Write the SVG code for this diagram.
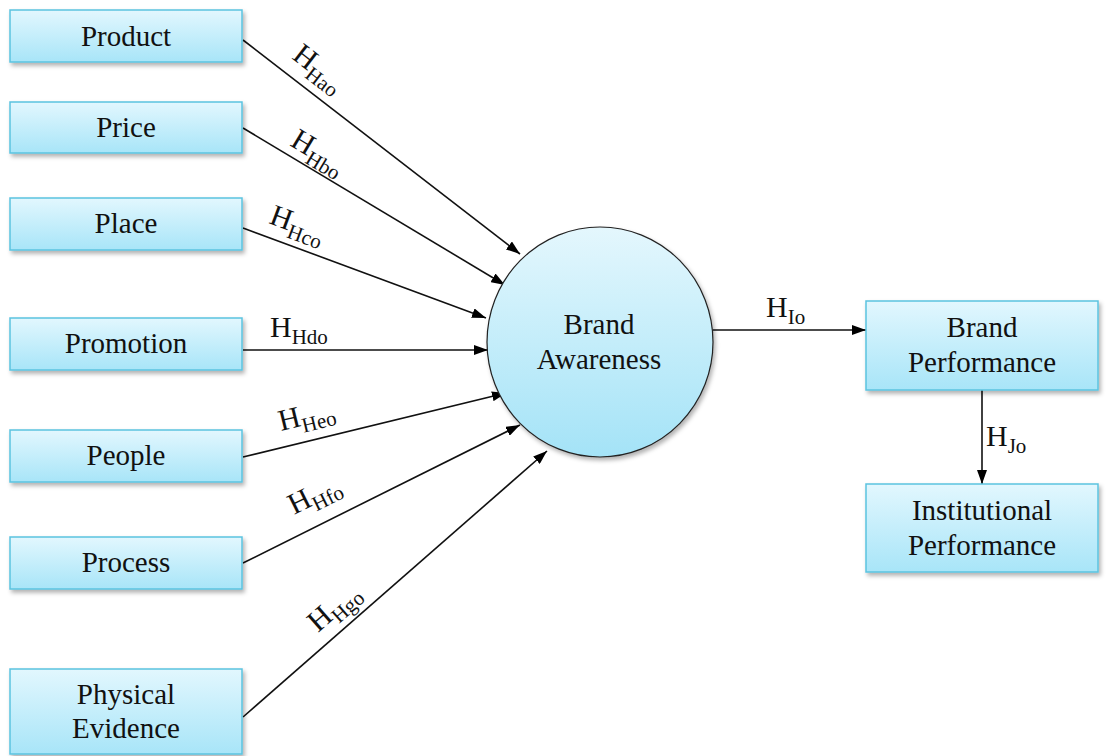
<svg xmlns="http://www.w3.org/2000/svg" width="1107" height="756" viewBox="0 0 1107 756">
  <defs>
    <linearGradient id="boxFill" x1="0" y1="0" x2="0" y2="1">
      <stop offset="0" stop-color="#e2f7fe"/>
      <stop offset="1" stop-color="#a8e5f8"/>
    </linearGradient>
    <linearGradient id="circleFill" x1="0" y1="0" x2="0" y2="1">
      <stop offset="0" stop-color="#e4f7fd"/>
      <stop offset="1" stop-color="#a4e3f7"/>
    </linearGradient>
    <filter id="shadow" x="-10%" y="-20%" width="125%" height="150%">
      <feDropShadow dx="2" dy="3" stdDeviation="2" flood-color="#000" flood-opacity="0.3"/>
    </filter>
    <marker id="arrow" viewBox="0 0 14 10" refX="14" refY="5" markerWidth="14" markerHeight="10" markerUnits="userSpaceOnUse" orient="auto">
      <path d="M0,0 L14,5 L0,10 Z" fill="#000"/>
    </marker>
  </defs>
  <style>
    .box { fill: url(#boxFill); stroke: #5bc3e0; stroke-width: 1.5; filter: url(#shadow); }
    .circle { fill: url(#circleFill); stroke: #222; stroke-width: 1.2; filter: url(#shadow); }
    text { font-family: 'Liberation Serif', 'DejaVu Serif', serif; fill: #111; }
    .label { font-size: 29px; text-anchor: middle; }
    .edge { stroke: #111; stroke-width: 1.6; fill: none; marker-end: url(#arrow); }
    .hyp { font-size: 30px; }
    .sub { font-size: 21px; }
  </style>
  <rect width="1107" height="756" fill="#fff"/>

  <!-- connectors -->
  <g id="connectors">
    <line class="edge" x1="243" y1="40" x2="520" y2="254"/>
    <line class="edge" x1="243" y1="128" x2="505" y2="285"/>
    <line class="edge" x1="243" y1="228" x2="486" y2="318"/>
    <line class="edge" x1="243" y1="350" x2="488" y2="350"/>
    <line class="edge" x1="243" y1="457" x2="506" y2="393"/>
    <line class="edge" x1="243" y1="563" x2="520" y2="425"/>
    <line class="edge" x1="243" y1="717" x2="547" y2="451"/>
    <line class="edge" x1="713" y1="330" x2="866" y2="330"/>
    <line class="edge" x1="982" y1="390" x2="982" y2="484"/>

    <text class="hyp" font-family="Liberation Serif" transform="translate(291,58) rotate(37.7)">H<tspan class="sub" dy="7">Hao</tspan></text>
    <text class="hyp" font-family="Liberation Serif" transform="translate(289,145) rotate(30.9)">H<tspan class="sub" dy="7">Hbo</tspan></text>
    <text class="hyp" font-family="Liberation Serif" transform="translate(268,223) rotate(20.4)">H<tspan class="sub" dy="7">Hco</tspan></text>
    <text class="hyp" font-family="Liberation Serif" x="270" y="337">H<tspan class="sub" dy="7">Hdo</tspan></text>
    <text class="hyp" font-family="Liberation Serif" transform="translate(281,431) rotate(-13.7)">H<tspan class="sub" dy="7">Heo</tspan></text>
    <text class="hyp" font-family="Liberation Serif" transform="translate(294,515) rotate(-26.5)">H<tspan class="sub" dy="7">Hfo</tspan></text>
    <text class="hyp" font-family="Liberation Serif" transform="translate(318,633) rotate(-41.3)">H<tspan class="sub" dy="7">Hgo</tspan></text>
    <text class="hyp" font-family="Liberation Serif" x="766" y="317">H<tspan class="sub" dy="7">Io</tspan></text>
    <text class="hyp" font-family="Liberation Serif" x="986" y="446">H<tspan class="sub" dy="7">Jo</tspan></text>
  </g>

  <!-- nodes -->
  <g id="product">
    <rect class="box" x="10" y="10" width="232" height="52"/>
    <text class="label" x="126" y="46">Product</text>
  </g>
  <g id="price">
    <rect class="box" x="10" y="102" width="232" height="51"/>
    <text class="label" x="126" y="137">Price</text>
  </g>
  <g id="place">
    <rect class="box" x="10" y="198" width="232" height="52"/>
    <text class="label" x="126" y="233">Place</text>
  </g>
  <g id="promotion">
    <rect class="box" x="10" y="318" width="232" height="52"/>
    <text class="label" x="126" y="353">Promotion</text>
  </g>
  <g id="people">
    <rect class="box" x="10" y="430" width="232" height="52"/>
    <text class="label" x="126" y="465">People</text>
  </g>
  <g id="process">
    <rect class="box" x="10" y="537" width="232" height="52"/>
    <text class="label" x="126" y="572">Process</text>
  </g>
  <g id="physical-evidence">
    <rect class="box" x="10" y="669" width="232" height="85"/>
    <text class="label" x="126" y="704">Physical</text>
    <text class="label" x="126" y="738">Evidence</text>
  </g>
  <g id="brand-awareness">
    <ellipse class="circle" cx="600" cy="342" rx="113" ry="115"/>
    <text class="label" x="599" y="334">Brand</text>
    <text class="label" x="599" y="369">Awareness</text>
  </g>
  <g id="brand-performance">
    <rect class="box" x="866" y="301" width="232" height="89"/>
    <text class="label" x="982" y="337">Brand</text>
    <text class="label" x="982" y="372">Performance</text>
  </g>
  <g id="institutional-performance">
    <rect class="box" x="866" y="484" width="232" height="88"/>
    <text class="label" x="982" y="520">Institutional</text>
    <text class="label" x="982" y="555">Performance</text>
  </g>
</svg>
